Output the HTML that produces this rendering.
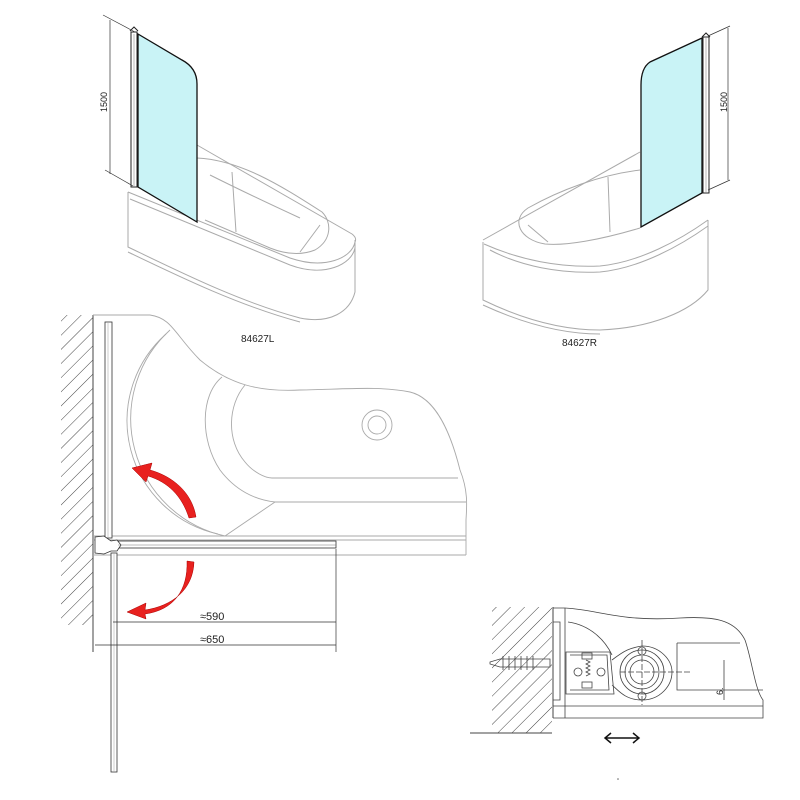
<!DOCTYPE html>
<html><head><meta charset="utf-8"><style>
html,body{margin:0;padding:0;background:#fff;}
svg{display:block}
text{font-family:"Liberation Sans",sans-serif;fill:#222}
</style></head><body>
<svg width="800" height="800" viewBox="0 0 800 800" xmlns="http://www.w3.org/2000/svg">
<defs>
<pattern id="h" width="10" height="10" patternUnits="userSpaceOnUse" patternTransform="rotate(45)">
<line x1="0" y1="0" x2="0" y2="10" stroke="#444" stroke-width="1"/></pattern>
</defs>

<!-- ===== Left bath (84627L) ===== -->
<g fill="none" stroke="#aaa" stroke-width="1">
 <path d="M128,192 L128,247 C180,272 240,302 300,318 C330,324 350,312 355,292 L355,240"/>
 <path d="M128,252 C180,277 240,306 300,322"/>
 <path d="M197,145 L352,234 C356,237 356,240 355,242"/>
 <path d="M128,192 L290,258 C325,270 352,258 355,242"/>
 <path d="M130,199 L290,265 C325,278 352,264 355,248"/>
 <path d="M197,158 C240,160 280,185 322,212 C332,222 332,240 315,250 C300,256 285,254 270,248 L205,220"/>
 <path d="M232,172 L236,232 M320,225 L300,252"/>
 <path d="M210,175 C230,185 250,195 300,218"/>
</g>
<path d="M138,34 L182,60 Q197,68 197,84 L197,222 L138,187 Z" fill="#c9f3f6" stroke="#111" stroke-width="1.3"/>
<rect x="131" y="32" width="6" height="155" fill="#fff" stroke="#222" stroke-width="1"/>
<line x1="134" y1="34" x2="134" y2="186" stroke="#888" stroke-width="0.6"/>
<path d="M130,31 L134,27 L138,31" fill="none" stroke="#222"/>
<g stroke="#333" stroke-width="0.7">
 <line x1="103" y1="15" x2="135" y2="32"/><line x1="105" y1="170" x2="133" y2="186"/>
 <line x1="110" y1="20" x2="110" y2="174"/>
</g>
<text x="0" y="0" font-size="9" transform="translate(107,112) rotate(-90)">1500</text>
<text x="241" y="342" font-size="10">84627L</text>

<!-- ===== Right bath (84627R) ===== -->
<g fill="none" stroke="#aaa" stroke-width="1">
 <path d="M483,242 L483,300 C520,318 560,330 600,330 C650,328 690,312 708,290 L708,220"/>
 <path d="M483,305 C520,322 560,334 600,334"/>
 <path d="M483,240 L640,152"/>
 <path d="M484,244 C520,260 560,268 600,266 C640,262 680,240 708,220"/>
 <path d="M490,250 C520,266 560,274 600,272 C640,268 680,246 708,226"/>
 <path d="M640,170 C600,175 560,190 528,208 C510,220 520,240 545,244 C565,246 600,240 640,228"/>
 <path d="M608,177 L610,232 M528,225 L548,242"/>
</g>
<path d="M702,38 L650,62 Q641,68 641,85 L641,227 L702,193 Z" fill="#c9f3f6" stroke="#111" stroke-width="1.3"/>
<rect x="703" y="37" width="6" height="156" fill="#fff" stroke="#222" stroke-width="1"/>
<line x1="706" y1="38" x2="706" y2="192" stroke="#888" stroke-width="0.6"/>
<path d="M702,37 L706,33 L710,37" fill="none" stroke="#222"/>
<g stroke="#333" stroke-width="0.7">
 <line x1="708" y1="36" x2="730" y2="26"/><line x1="708" y1="190" x2="730" y2="180"/>
 <line x1="728" y1="28" x2="728" y2="180"/>
</g>
<text x="0" y="0" font-size="9" transform="translate(727,112) rotate(-90)">1500</text>
<text x="562" y="346" font-size="10">84627R</text>

<!-- ===== Plan view ===== -->
<rect x="60" y="315" width="33" height="310" fill="url(#h)"/>
<rect x="55" y="310" width="6" height="320" fill="#fff"/>
<line x1="93" y1="315" x2="93" y2="652" stroke="#444" stroke-width="1"/>
<g fill="none" stroke="#aaa" stroke-width="0.9">
 <path d="M93,315 L150,315 C172,318 175,335 200,360 C230,385 260,392 300,390 C350,389 380,386 410,392 C435,398 450,430 460,470 C468,490 467,505 466,520 L466,555"/>
 <path d="M93,536 L466,536 M93,540 L466,540 M93,555 L466,555"/>
 <path d="M170,330 A120,120 0 0 0 225,536"/>
 <path d="M166,334 A116,116 0 0 0 218,534"/>
 <path d="M222,377 C200,395 200,440 220,470 C235,490 255,500 275,502 L466,502"/>
 <path d="M245,385 C228,405 226,440 245,462 C253,472 265,478 272,478 L458,478"/>
 <line x1="225" y1="536" x2="275" y2="502"/>
 <circle cx="377" cy="425" r="15"/><circle cx="377" cy="425" r="9"/>
</g>
<g fill="#fff" stroke="#333" stroke-width="0.8">
 <rect x="105" y="322" width="7" height="216"/>
 <rect x="111" y="553" width="6" height="219"/>
 <rect x="118" y="541" width="218" height="7"/>
 <path d="M95,537 L104,536 L111,541 L117,540 L121,545 L117,551 L111,551 L104,554 L95,553 Z"/>
</g>
<line x1="108" y1="323" x2="108" y2="537" stroke="#999" stroke-width="0.5"/>
<line x1="114" y1="554" x2="114" y2="771" stroke="#999" stroke-width="0.5"/>
<line x1="118" y1="545" x2="336" y2="545" stroke="#777" stroke-width="0.5"/>
<!-- red arrows -->
<path d="M196,517 C192,492 172,476 150,470 L152,463 L132,468 L146,482 L148,476 C168,482 182,496 189,518 Z" fill="#e8211f" stroke="#a00" stroke-width="0.5"/>
<path d="M194,562 C193,590 172,606 145,610 L146,603 L127,612 L146,619 L145,614 C174,610 188,590 187,561 Z" fill="#e8211f" stroke="#a00" stroke-width="0.5"/>
<!-- dims -->
<g stroke="#333" stroke-width="0.7">
 <line x1="336" y1="549" x2="336" y2="652"/>
 <line x1="113" y1="622" x2="336" y2="622"/>
 <line x1="95" y1="645" x2="336" y2="645"/>
</g>
<text x="200" y="620" font-size="11">≈590</text>
<text x="200" y="643" font-size="11">≈650</text>

<!-- ===== Detail ===== -->
<rect x="490" y="607" width="62" height="126" fill="url(#h)"/>
<rect x="484" y="600" width="8" height="140" fill="#fff"/>
<path d="M470,733 L552,733 M553,607 L553,718" stroke="#444" fill="none"/>
<g fill="none" stroke="#444" stroke-width="0.8">
 <path d="M553,608 L565,608 C600,610 620,622 680,618 C715,616 735,620 745,640 C752,660 755,690 763,700 L763,718 L553,718"/>
 <path d="M565,608 L565,718 M553,706 L763,706"/>
 <path d="M568,622 C590,625 605,640 612,655"/>
 <path d="M553,622 L560,622 L560,700 L553,700"/>
 <path d="M566,652 L610,652 L614,694 L566,694 Z"/>
 <path d="M570,655 L607,655 L609,690 L570,690"/>
 <path d="M677,643 L677,690 L763,690 M677,643 L740,643"/>
 <line x1="620" y1="672" x2="690" y2="672" stroke-dasharray="6,2"/>
 <line x1="642" y1="640" x2="642" y2="705" stroke-dasharray="6,2"/>
 <path d="M612,660 C625,650 630,648 642,646 C660,646 672,660 672,672 C672,686 660,700 642,700 C625,700 618,690 612,685"/>
 <circle cx="642" cy="672" r="22"/><circle cx="642" cy="672" r="17"/><circle cx="642" cy="672" r="12"/>
 <circle cx="642" cy="651" r="4"/><circle cx="642" cy="696" r="4"/>
 <circle cx="578" cy="672" r="4"/><circle cx="601" cy="672" r="4"/>
 <path d="M490,662 L500,659 L550,659 L550,667 L500,667 L490,664 Z"/>
 <path d="M503,656 l0,14 M509,656 l0,14 M515,656 l0,14 M521,656 l0,14 M527,656 l0,14 M533,656 l0,14"/>
 <path d="M586,660 l4,2 l-4,2 l4,2 l-4,2 l4,2 l-4,2 l4,2 l-4,2"/>
 <rect x="582" y="653" width="10" height="6"/><rect x="582" y="682" width="10" height="6"/>
 <line x1="724" y1="660" x2="724" y2="700"/>
</g>
<text x="0" y="0" font-size="9" transform="translate(723,695) rotate(-90)">6.</text>
<path d="M606,738 L638,738 M611,733 L605,738 L611,743 M633,733 L639,738 L633,743" fill="none" stroke="#111" stroke-width="1.5"/>
<circle cx="618" cy="779" r="0.8" fill="#666"/>
</svg>
</body></html>
